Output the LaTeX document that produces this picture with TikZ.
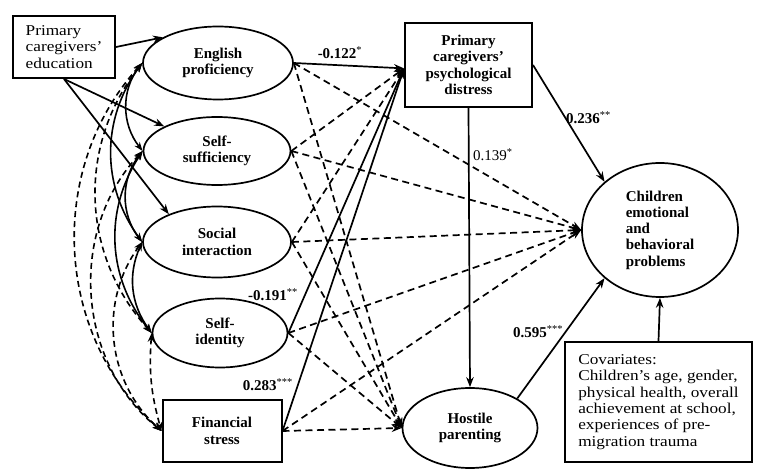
\documentclass[tikz,border=0pt]{standalone}
\usepackage{fontspec}
\setmainfont{Liberation Serif}
\newfontfamily\regfont{Liberation Serif}[FakeStretch=1.15]
\usetikzlibrary{arrows.meta,shapes.geometric}
\newcommand\mysig[1]{\textsuperscript{\mdseries #1}}
\begin{document}
\fontsize{15}{16.3}\selectfont
\begin{tikzpicture}[x=1pt,y=-1pt,
  ell/.style={ellipse, draw, line width=1.7pt, font=\bfseries, align=center, inner sep=0pt},
  rbox/.style={rectangle, draw, line width=2pt, inner sep=0pt},
  arr/.style={line width=1.7pt, -{Stealth[length=10pt,width=7.5pt]}},
  darr/.style={arr, dash pattern=on 7pt off 4.5pt},
  corr/.style={line width=1.6pt, {Stealth[length=9pt,width=6.5pt]}-{Stealth[length=9pt,width=6.5pt]}},
  dcorr/.style={corr, dash pattern=on 6pt off 4pt},
  lab/.style={font=\bfseries, inner sep=0pt},
  labn/.style={inner sep=0pt}]
\useasboundingbox (0,0) rectangle (764,473);

% nodes
\node[rbox, font=\regfont, minimum width=102pt, minimum height=62pt, align=left] (edu) at (64,47) {Primary\\caregivers’\\education};
\node[ell, minimum width=150pt, minimum height=73pt] (eng) at (218,63) {English\\proficiency};
\node[ell, minimum width=147pt, minimum height=68pt] (ss) at (217,151) {Self-\\sufficiency};
\node[ell, minimum width=148pt, minimum height=71pt] (si) at (217,242) {Social\\interaction};
\node[ell, minimum width=135pt, minimum height=69pt] (sid) at (220,333) {Self-\\identity};
\node[rbox, font=\bfseries, minimum width=119pt, minimum height=61pt, align=center] (fin) at (222,431) {Financial\\stress};
\node[rbox, font=\bfseries, minimum width=127pt, minimum height=84pt, align=center] (dist) at (468.5,65) {Primary\\caregivers’\\psychological\\distress};
\node[ell, minimum width=135pt, minimum height=80pt] (host) at (470,428) {Hostile\\parenting};
\node[ell, minimum width=156pt, minimum height=134pt, align=left] (child) at (660,230) {Children\\emotional\\and\\behavioral\\problems};
\node[rbox, font=\regfont, minimum width=187pt, minimum height=120pt, align=left] (cov) at (658.5,402) {Covariates:\\Children’s age, gender,\\physical health, overall\\achievement at school,\\experiences of pre-\\migration trauma};

% education paths
\draw[arr] (edu.east) -- (eng.155);
\draw[arr] (edu.south) -- (ss.155);
\draw[arr] (edu.south) -- (si.150);

% correlations
\draw[corr] (eng.west) to[bend right=38] (ss.west);
\draw[corr] (eng.west) to[bend right=36] (si.west);
\draw[corr] (ss.west) to[bend right=38] (si.west);
\draw[corr] (ss.west) to[bend right=36] (sid.west);
\draw[corr] (si.west) to[bend right=30] (sid.west);
\draw[dcorr] (eng.west) to[bend right=40] (sid.west);
\draw[dcorr] (eng.west) to[bend right=45] (fin.west);
\draw[dcorr] (ss.west) to[bend right=47] (fin.west);
\draw[dcorr] (si.west) to[bend right=42] (fin.west);
\draw[dcorr] (sid.west) to[bend right=10] (fin.west);

% to distress
\draw[arr] (eng.east) -- (dist.183);
\draw[darr] (ss.east) -- (dist.183);
\draw[darr] (si.east) -- (dist.183);
\draw[arr] (sid.east) -- (dist.183);
\draw[arr] (fin.east) -- (dist.183);

% to hostile parenting
\draw[darr] (eng.east) -- (host.west);
\draw[darr] (ss.east) -- (host.west);
\draw[darr] (si.east) -- (host.west);
\draw[darr] (sid.east) -- (host.west);
\draw[darr] (fin.east) -- (host.west);

% to children
\draw[darr] (eng.east) -- (child.west);
\draw[darr] (ss.east) -- (child.west);
\draw[darr] (si.east) -- (child.west);
\draw[darr] (sid.east) -- (child.west);
\draw[darr] (fin.east) -- (child.west);

\draw[arr] (dist.east) -- (child.139);
\draw[arr] (host.32) -- (child.221);
\draw[arr] (dist.south) -- (host.north);
\draw[arr] (cov.north) -- (child.south);

% labels
\node[lab] (l1) at (340,53) {-0.122\mysig{*}};
\node[lab, anchor=west] (l2) at (566,118) {0.236\mysig{**}};
\node[labn, anchor=west] (l3) at (473,155) {0.139\mysig{*}};
\node[lab, anchor=east] (l4) at (298,295) {-0.191\mysig{**}};
\node[lab, anchor=east] (l5) at (293,385) {0.283\mysig{***}};
\node[lab] (l6) at (538,332) {0.595\mysig{***}};
\end{tikzpicture}
\end{document}
